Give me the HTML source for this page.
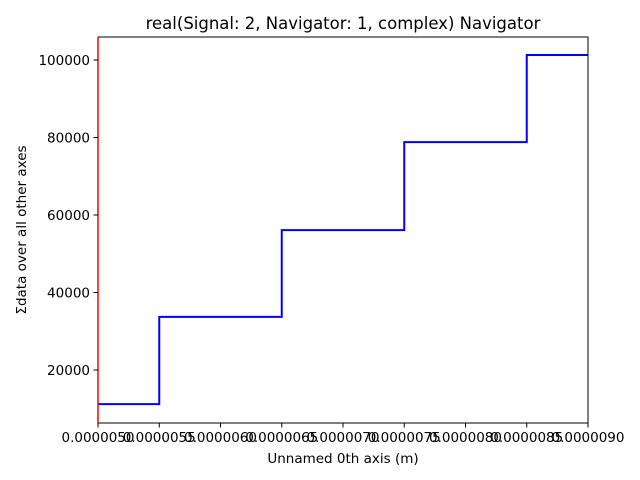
<!DOCTYPE html>
<html><head><meta charset="utf-8"><style>
body{margin:0;background:#fff}
svg{display:block;font-family:"DejaVu Sans","Liberation Sans",sans-serif}
</style></head><body>
<svg id="chart" width="640" height="480">
<rect width="640" height="480" fill="#fff"/>
<text x="343" y="29" text-anchor="middle" font-size="16.5">real(Signal: 2, Navigator: 1, complex) Navigator</text>
<text x="343" y="463" text-anchor="middle" font-size="13.5">Unnamed 0th axis (m)</text>
<text transform="translate(26,230) rotate(-90)" text-anchor="middle" font-size="13.5">Σdata over all other axes</text>
<g id="plot"></g>
</svg>
<script>
const xTicks = [5.0, 5.5, 6.0, 6.5, 7.0, 7.5, 8.0, 8.5, 9.0];
const xTickLabels = ["0.0000050","0.0000055","0.0000060","0.0000065","0.0000070","0.0000075","0.0000080","0.0000085","0.0000090"];
const yTicks = [20000, 40000, 60000, 80000, 100000];
const yTickLabels = ["20000","40000","60000","80000","100000"];
const stepEdges = [5.0, 5.5, 6.5, 7.5, 8.5, 9.0];
const stepValues = [11200, 33700, 56100, 78800, 101300];
const xMin = 5.0, xMax = 9.0, yMin = 6320, yMax = 105930;
const L = 98, R = 588, T = 37, B = 423;
const sx = v => L + (v - xMin) / (xMax - xMin) * (R - L);
const sy = v => B - (v - yMin) / (yMax - yMin) * (B - T);
const NS = "http://www.w3.org/2000/svg";
const g = document.getElementById("plot");
function mk(tag, attrs){const e=document.createElementNS(NS,tag);for(const k in attrs)e.setAttribute(k,attrs[k]);g.appendChild(e);return e;}
// step line
let d = "";
for (let i = 0; i < stepValues.length; i++) {
  const y = sy(stepValues[i]);
  d += (i === 0 ? "M" : "L") + sx(stepEdges[i]) + "," + y + "L" + sx(stepEdges[i+1]) + "," + y;
}
const line = mk("path", {d: d, fill: "none", stroke: "#0000ff", "stroke-width": 2});


// frame
const frame = mk("rect", {x: L, y: T, width: R - L, height: B - T, fill: "none", stroke: "#000", "stroke-width": 1});


const red = mk("line", {x1: L, x2: L, y1: T, y2: B, stroke: "#ff0000", "stroke-width": 1.5});


xTicks.forEach((v, i) => {
  const x = sx(v);
  const t = mk("line", {x1: x, x2: x, y1: B, y2: B + 4.5, stroke: "#000"});
  
  
  const tx = mk("text", {x: x, y: B + 19, "text-anchor": "middle", "font-size": 13.5});
  tx.textContent = xTickLabels[i];
  
  
});
yTicks.forEach((v, i) => {
  const y = sy(v);
  const t = mk("line", {x1: L - 4.5, x2: L, y1: y, y2: y, stroke: "#000"});
  
  
  const tx = mk("text", {x: L - 8, y: y + 5, "text-anchor": "end", "font-size": 13.5});
  tx.textContent = yTickLabels[i];
  
  
});
</script>
</body></html>
